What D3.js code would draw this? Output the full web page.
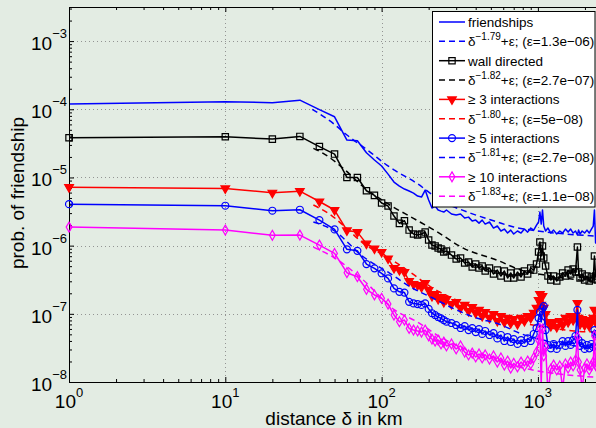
<!DOCTYPE html>
<html>
<head>
<meta charset="utf-8">
<script src="https://cdn.jsdelivr.net/npm/d3@7"></script>
<style>
  body { margin: 0; background: #e3ece3; }
  svg { display: block; font-family: 'Liberation Sans', Arial, Helvetica, sans-serif; }
</style>
</head>
<body>
<svg id="chart" width="596" height="428"></svg>
<script>
// distance bins (km) shared by the measured series
const distances = [1, 10, 20, 30, 40, 50, 60, 70, 80, 90, 100, 110, 120, 130, 140, 150, 160, 170, 180, 190, 200,
  210, 220, 230, 240, 250, 260, 280, 300, 320, 340, 360, 380, 400, 420, 440, 460, 490, 520, 550, 580, 610, 640,
  670, 700, 740, 780, 820, 860, 900, 940, 980, 1010, 1030, 1050, 1070, 1090, 1120, 1160, 1210, 1260, 1320, 1380,
  1440, 1500, 1560, 1620, 1680, 1740, 1790, 1820, 1860, 1920, 1990, 2060, 2130, 2200, 2260, 2300, 2340, 2400];

const friendships = [1.19e-4, 1.29e-4, 1.25e-4, 1.36e-4, 9.9e-5, 7.76e-5, 3.53e-5, 3.45e-5, 2.30e-5, 1.80e-5, 1.47e-5,
  1.12e-5, 8.57e-6, 7.48e-6, 6.76e-6, 6.32e-6, 5.90e-6, 5.33e-6, 5.16e-6, 6.53e-6, 4.67e-6,
  3.56e-6, 3.81e-6, 3.33e-6, 3.21e-6, 3.11e-6, 3.33e-6, 2.91e-6, 2.81e-6, 2.91e-6, 2.54e-6, 2.62e-6, 2.30e-6,
  2.37e-6, 2.14e-6, 2.37e-6, 2.07e-6, 2.22e-6, 1.81e-6, 1.94e-6, 1.64e-6, 1.75e-6, 1.53e-6, 1.69e-6, 1.48e-6,
  1.64e-6, 1.53e-6, 1.75e-6, 1.58e-6, 1.81e-6, 1.69e-6, 2.0e-6, 2.22e-6, 3.11e-6, 2.07e-6, 3.33e-6, 1.94e-6,
  1.64e-6, 1.81e-6, 1.53e-6, 1.69e-6, 1.48e-6, 1.64e-6, 1.53e-6, 1.75e-6, 1.58e-6, 1.75e-6, 1.53e-6, 1.64e-6,
  1.43e-6, 1.69e-6, 1.48e-6, 1.64e-6, 1.53e-6, 1.69e-6, 1.53e-6, 1.75e-6, 1.94e-6, 3.33e-6, 1.09e-6, 1.58e-6];

const wallDirected = [3.82e-5, 3.95e-5, 3.65e-5, 4.0e-5, 2.84e-5, 2.20e-5, 1.00e-5, 1.00e-5, 6.38e-6, 5.46e-6, 4.22e-6,
  3.81e-6, 2.72e-6, 2.12e-6, 2.32e-6, 1.69e-6, 1.48e-6, 1.43e-6, 1.48e-6, 1.58e-6, 1.21e-6,
  1.02e-6, 9.86e-7, 9.23e-7, 8.92e-7, 8.05e-7, 8.33e-7, 7.27e-7, 6.36e-7, 6.58e-7, 5.56e-7, 5.75e-7, 4.86e-7,
  5.37e-7, 4.70e-7, 5.03e-7, 4.25e-7, 4.70e-7, 3.84e-7, 4.38e-7, 3.58e-7, 4.25e-7, 3.35e-7, 3.97e-7, 3.35e-7,
  4.10e-7, 3.47e-7, 4.25e-7, 3.84e-7, 4.70e-7, 4.38e-7, 5.37e-7, 8.05e-7, 1.13e-6, 7.05e-7, 9.86e-7, 6.58e-7,
  5.03e-7, 3.58e-7, 3.13e-7, 3.58e-7, 3.03e-7, 3.47e-7, 3.97e-7, 3.58e-7, 4.38e-7, 3.84e-7, 4.54e-7, 4.10e-7,
  9.55e-7, 4.10e-7, 3.35e-7, 3.84e-7, 3.13e-7, 3.58e-7, 3.03e-7, 3.47e-7, 3.24e-7, 7.05e-7, 3.58e-7, 3.13e-7];

const interactions3 = [7.2e-6, 6.9e-6, 5.97e-6, 6.3e-6, 4.44e-6, 3.33e-6, 1.67e-6, 1.58e-6, 1.07e-6, 9.06e-7, 8.05e-7,
  6.47e-7, 4.70e-7, 4.39e-7, 4.10e-7, 3.03e-7, 2.74e-7, 2.64e-7, 2.47e-7, 2.83e-7, 2.23e-7,
  1.82e-7, 1.95e-7, 1.65e-7, 1.76e-7, 1.49e-7, 1.65e-7, 1.39e-7, 1.49e-7, 1.22e-7, 1.35e-7, 1.10e-7, 1.26e-7,
  1.03e-7, 1.14e-7, 9.3e-8, 1.06e-7, 8.7e-8, 9.9e-8, 7.83e-8, 9.3e-8, 7.58e-8, 8.7e-8, 7.3e-8, 8.4e-8,
  7.08e-8, 8.7e-8, 7.83e-8, 9.3e-8, 8.7e-8, 1.03e-7, 1.22e-7, 1.59e-7, 1.95e-7, 1.35e-7, 1.82e-7, 1.22e-7,
  9.9e-8, 7.58e-8, 6.62e-8, 7.58e-8, 6.4e-8, 7.83e-8, 6.85e-8, 8.7e-8, 7.58e-8, 9.3e-8, 8.1e-8, 9.3e-8,
  1.44e-7, 8.7e-8, 7.08e-8, 8.4e-8, 6.85e-8, 8.1e-8, 6.62e-8, 7.83e-8, 8.7e-8, 1.14e-7, 7.58e-8, 8.7e-8];

const interactions5 = [4.06e-6, 3.85e-6, 3.25e-6, 3.36e-6, 2.37e-6, 1.73e-6, 8.83e-7, 8.4e-7, 5.37e-7, 4.65e-7, 3.93e-7,
  3.31e-7, 2.36e-7, 2.1e-7, 2.05e-7, 1.5e-7, 1.42e-7, 1.39e-7, 1.35e-7, 1.42e-7, 1.18e-7,
  1.02e-7, 9.6e-8, 8.97e-8, 8.6e-8, 8.1e-8, 7.66e-8, 7.33e-8, 6.85e-8, 6.19e-8, 6.62e-8, 5.78e-8, 6.19e-8,
  5.4e-8, 5.98e-8, 5.06e-8, 5.6e-8, 4.89e-8, 5.23e-8, 4.36e-8, 4.89e-8, 3.99e-8, 4.57e-8, 3.86e-8, 4.27e-8,
  3.61e-8, 4.13e-8, 3.73e-8, 4.36e-8, 3.99e-8, 5.06e-8, 6.19e-8, 8.67e-8, 1.06e-7, 7.58e-8, 1.2e-7, 1.3e-7,
  5.78e-8, 3.49e-8, 3.12e-8, 3.61e-8, 3.05e-8, 3.49e-8, 3.99e-8, 3.38e-8, 3.99e-8, 3.49e-8, 4.13e-8, 4.73e-8,
  1.14e-7, 4.13e-8, 3.38e-8, 3.73e-8, 3.05e-8, 3.49e-8, 3.12e-8, 3.61e-8, 3.26e-8, 5.78e-8, 5.06e-8, 3.86e-8];

const interactions10 = [1.87e-6, 1.69e-6, 1.42e-6, 1.43e-6, 1.02e-6, 7.7e-7, 4.01e-7, 3.5e-7, 2.29e-7, 1.89e-7, 1.69e-7,
  1.39e-7, 9.6e-8, 7.66e-8, 8.1e-8, 6.1e-8, 5.78e-8, 5.6e-8, 5.4e-8, 5.78e-8, 4.73e-8,
  4.27e-8, 3.99e-8, 4.13e-8, 3.61e-8, 3.86e-8, 3.38e-8, 3.61e-8, 3.05e-8, 3.38e-8, 2.75e-8, 2.49e-8, 2.66e-8,
  2.33e-8, 2.58e-8, 2.25e-8, 2.49e-8, 2.17e-8, 2.41e-8, 1.96e-8, 2.25e-8, 1.77e-8, 2.03e-8, 1.6e-8, 1.88e-8,
  1.66e-8, 1.96e-8, 1.72e-8, 2.03e-8, 1.84e-8, 2.25e-8, 2.75e-8, 4.13e-8, 6.1e-8, 9.0e-9, 5.98e-8, 2.41e-8,
  3.26e-8, 7.0e-9, 1.55e-8, 1.77e-8, 1.5e-8, 1.72e-8, 8.0e-9, 1.84e-8, 1.6e-8, 1.96e-8, 1.72e-8, 2.1e-8,
  4.61e-8, 1.96e-8, 1.5e-8, 8.0e-9, 1.6e-8, 1.84e-8, 1.5e-8, 1.72e-8, 1.96e-8, 4.73e-8, 1.77e-8, 1.6e-8];

// fitted curves
const fitFriendsDist = [36, 49, 60, 84, 108, 121, 168, 236, 350, 496, 700, 1000, 1500, 2400];
const fitFriendsVal = [1.0e-4, 6.2e-5, 4.19e-5, 2.38e-5, 1.52e-5, 1.28e-5, 8.2e-6, 4.66e-6, 3.14e-6, 2.4e-6, 1.88e-6, 1.64e-6, 1.48e-6, 1.38e-6];
const fitWallDist = [36.6, 42.3, 56.8, 76.3, 113, 160, 226, 333, 545, 800, 1200, 1700, 2400];
const fitWallVal = [2.67e-5, 2.26e-5, 1.36e-5, 7.3e-6, 3.94e-6, 2.51e-6, 1.6e-6, 9.2e-7, 6.15e-7, 4.3e-7, 3.6e-7, 3.2e-7, 2.95e-7];
const fit3Dist = [36.6, 49, 59.5, 76.3, 108, 152, 214, 302, 425, 545, 800, 1200, 1700, 2400];
const fit3Val = [3.94e-6, 2.65e-6, 1.81e-6, 1.08e-6, 6.87e-7, 4.1e-7, 2.36e-7, 1.59e-7, 1.14e-7, 9.8e-8, 7.4e-8, 6.2e-8, 5.6e-8, 5.4e-8];
const fit5Dist = [36.6, 49, 76.3, 113, 152, 214, 302, 410, 545, 800, 1200, 1700, 2400];
const fit5Val = [2.22e-6, 1.69e-6, 6.87e-7, 3.93e-7, 2.5e-7, 1.69e-7, 1.14e-7, 8.6e-8, 7.26e-8, 5.0e-8, 3.9e-8, 3.4e-8, 3.1e-8];
const fit10Dist = [36.6, 49, 76.3, 121, 168, 236, 333, 496, 700, 1000, 1500, 2400];
const fit10Val = [9.5e-7, 6.8e-7, 3.13e-7, 1.14e-7, 7.66e-8, 4.61e-8, 3.12e-8, 2.35e-8, 1.75e-8, 1.45e-8, 1.28e-8, 1.17e-8];

const seriesLabels = ['friendships', 'wall directed', '\u2265 3 interactions', '\u2265 5 interactions', '\u2265 10 interactions'];
const fitExponents = ['\u22121.79', '\u22121.82', '\u22121.80', '\u22121.81', '\u22121.83'];
const fitEpsilons = ['1.3e\u221206', '2.7e\u221207', '5e\u221208', '2.7e\u221208', '1.1e\u221208'];

const xTickValues = [1, 10, 100, 1000];
const xTickExponents = ['0', '1', '2', '3'];
const yTickValues = [1e-8, 1e-7, 1e-6, 1e-5, 1e-4, 1e-3];
const yTickExponents = ['\u22128', '\u22127', '\u22126', '\u22125', '\u22124', '\u22123'];

const width = 596;
const height = 428;
const plotLeft = 69;
const plotTop = 7;
const plotBottom = 382;
const decadeX = 156.3;

const x = d3.scaleLog()
  .domain([1, Math.pow(10, 3.5)])
  .range([plotLeft, plotLeft + 3.5 * decadeX]);

const y = d3.scaleLog()
  .domain([1e-8, Math.pow(10, -2.5)])
  .range([plotBottom, plotTop]);

const isMajor = v => Math.abs(Math.log10(v) - Math.round(Math.log10(v))) < 1e-6;
const inside = d => d[1] >= 1e-8 && d[1] <= Math.pow(10, -2.5);

const series = [
  { label: seriesLabels[0], values: friendships, color: '#0000ff', marker: null,
    fitD: fitFriendsDist, fitV: fitFriendsVal },
  { label: seriesLabels[1], values: wallDirected, color: '#000000',
    marker: { type: d3.symbolSquare, size: 40, fill: false },
    fitD: fitWallDist, fitV: fitWallVal },
  { label: seriesLabels[2], values: interactions3, color: '#ff0000',
    marker: { type: d3.symbolTriangle, size: 32, fill: true, flip: true },
    fitD: fit3Dist, fitV: fit3Val },
  { label: seriesLabels[3], values: interactions5, color: '#0000ff',
    marker: { type: d3.symbolCircle, size: 38, fill: false },
    fitD: fit5Dist, fitV: fit5Val },
  { label: seriesLabels[4], values: interactions10, color: '#ff00ff',
    marker: { type: d3.symbolDiamond, size: 28, fill: false },
    fitD: fit10Dist, fitV: fit10Val }
];

const svg = d3.select('#chart');

svg.append('rect')
  .attr('width', width)
  .attr('height', height)
  .attr('fill', '#e3ece3');

svg.append('defs')
  .append('clipPath')
  .attr('id', 'plot-clip')
  .append('rect')
  .attr('x', plotLeft)
  .attr('y', plotTop)
  .attr('width', width - plotLeft)
  .attr('height', plotBottom - plotTop);

// dotted grid at the decades
const grid = svg.append('g')
  .attr('stroke', '#8a8a8a')
  .attr('stroke-width', 0.9)
  .attr('stroke-dasharray', '1,3');

grid.selectAll('line.gx')
  .data(xTickValues.filter(v => v > 1))
  .join('line')
  .attr('class', 'gx')
  .attr('x1', d => Math.round(x(d)) + 0.5)
  .attr('x2', d => Math.round(x(d)) + 0.5)
  .attr('y1', plotTop)
  .attr('y2', plotBottom);

grid.selectAll('line.gy')
  .data(yTickValues.filter(v => v > 1e-8))
  .join('line')
  .attr('class', 'gy')
  .attr('x1', plotLeft)
  .attr('x2', width)
  .attr('y1', d => Math.round(y(d)) + 0.5)
  .attr('y2', d => Math.round(y(d)) + 0.5);

// data and fits
const line = d3.line()
  .x(d => x(d[0]))
  .y(d => y(d[1]));

const fitLine = d3.line()
  .curve(d3.curveMonotoneX)
  .x(d => x(d[0]))
  .y(d => y(d[1]));

const plot = svg.append('g')
  .attr('clip-path', 'url(#plot-clip)');
const marks = svg.append('g');

series.forEach(s => {
  const pts = distances.map((d, i) => [d, s.values[i]]);
  const layer = plot.append('g');

  layer.append('path')
    .datum(pts)
    .attr('fill', 'none')
    .attr('stroke', s.color)
    .attr('stroke-width', 1.5)
    .attr('stroke-linejoin', 'round')
    .attr('d', line);

  if (s.marker) {
    layer.append('g')
      .selectAll('path')
      .data(pts.filter(inside))
      .join('path')
      .attr('transform', d => `translate(${x(d[0])},${y(d[1])})${s.marker.flip ? ' rotate(180)' : ''}`)
      .attr('d', d3.symbol().type(s.marker.type).size(s.marker.size))
      .attr('fill', s.marker.fill ? s.color : 'none')
      .attr('stroke', s.color)
      .attr('stroke-width', 1.2);
  }

  layer.append('path')
    .datum(s.fitD.map((d, i) => [d, s.fitV[i]]))
    .attr('fill', 'none')
    .attr('stroke', s.color)
    .attr('stroke-width', 1.5)
    .attr('stroke-dasharray', '6,4')
    .attr('d', fitLine);

  // first marker sits on the y axis and is not clipped
  if (s.marker) {
    marks.append('path')
      .attr('transform', `translate(${x(pts[0][0])},${y(pts[0][1])})${s.marker.flip ? ' rotate(180)' : ''}`)
      .attr('d', d3.symbol().type(s.marker.type).size(s.marker.size))
      .attr('fill', s.marker.fill ? s.color : 'none')
      .attr('stroke', s.color)
      .attr('stroke-width', 1.2);
  }
});

// axes with inward ticks (box style)
const xMinor = x.ticks().filter(v => !isMajor(v));
const yMinor = y.ticks().filter(v => !isMajor(v));

const addAxis = (axisFn, scale, transform, values, size) => svg.append('g')
  .attr('transform', transform)
  .call(axisFn(scale).tickValues(values).tickSize(-size).tickSizeOuter(0).tickFormat(''))
  .call(g => g.select('.domain').attr('stroke', '#000'))
  .call(g => g.selectAll('.tick line').attr('stroke', '#000'));

addAxis(d3.axisBottom, x, `translate(0,${plotBottom})`, xMinor, 3);
addAxis(d3.axisBottom, x, `translate(0,${plotBottom})`, xTickValues, 5);
addAxis(d3.axisTop, x, `translate(0,${plotTop})`, xMinor, 3);
addAxis(d3.axisTop, x, `translate(0,${plotTop})`, xTickValues, 5);
addAxis(d3.axisLeft, y, `translate(${plotLeft},0)`, yMinor, 3);
addAxis(d3.axisLeft, y, `translate(${plotLeft},0)`, yTickValues, 5);

svg.node().appendChild(marks.node());

// tick labels 10^k
const xLabels = svg.append('g')
  .attr('font-size', 19)
  .attr('fill', '#000')
  .attr('text-anchor', 'middle');

xTickValues.forEach((v, i) => {
  const t = xLabels.append('text')
    .attr('x', x(v))
    .attr('y', 408);
  t.append('tspan').text('10');
  t.append('tspan').attr('font-size', 13).attr('dy', -11).text(xTickExponents[i]);
});

const yLabels = svg.append('g')
  .attr('font-size', 19)
  .attr('fill', '#000')
  .attr('text-anchor', 'end');

yTickValues.forEach((v, i) => {
  const t = yLabels.append('text')
    .attr('x', 67)
    .attr('y', y(v) + 9);
  t.append('tspan').text('10');
  t.append('tspan').attr('font-size', 13).attr('dy', -12).text(yTickExponents[i]);
});

svg.append('text')
  .attr('x', 334)
  .attr('y', 425)
  .attr('text-anchor', 'middle')
  .attr('font-size', 19)
  .text('distance \u03b4 in km');

svg.append('text')
  .attr('transform', 'translate(24,193) rotate(-90)')
  .attr('text-anchor', 'middle')
  .attr('font-size', 19)
  .text('prob. of friendship');

// legend
const legend = svg.append('g')
  .attr('font-size', 13.5);

legend.append('rect')
  .attr('x', 432.5)
  .attr('y', 11.5)
  .attr('width', 162.5)
  .attr('height', 195.5)
  .attr('fill', '#ffffff')
  .attr('stroke', '#000')
  .attr('stroke-width', 1);

const rowStep = 19.35;
series.forEach((s, i) => {
  const y0 = 22 + i * 2 * rowStep;
  const y1 = y0 + rowStep;

  legend.append('line')
    .attr('x1', 439).attr('x2', 465)
    .attr('y1', y0).attr('y2', y0)
    .attr('stroke', s.color)
    .attr('stroke-width', 1.5);

  if (s.marker) {
    legend.append('path')
      .attr('transform', `translate(452,${y0})${s.marker.flip ? ' rotate(180)' : ''}`)
      .attr('d', d3.symbol().type(s.marker.type).size(s.marker.size))
      .attr('fill', s.marker.fill ? s.color : 'none')
      .attr('stroke', s.color)
      .attr('stroke-width', 1.2);
  }

  legend.append('text')
    .attr('x', 468)
    .attr('y', y0 + 5)
    .text(s.label);

  legend.append('line')
    .attr('x1', 439).attr('x2', 465)
    .attr('y1', y1).attr('y2', y1)
    .attr('stroke', s.color)
    .attr('stroke-width', 1.5)
    .attr('stroke-dasharray', '6,4');

  const t = legend.append('text')
    .attr('x', 468)
    .attr('y', y1 + 5);
  t.append('tspan').text('\u03b4');
  t.append('tspan').attr('font-size', 10).attr('dy', -6).text(fitExponents[i]);
  t.append('tspan').attr('dy', 6).text(`+\u03b5; (\u03b5=${fitEpsilons[i]})`);
});
</script>
</body>
</html>
